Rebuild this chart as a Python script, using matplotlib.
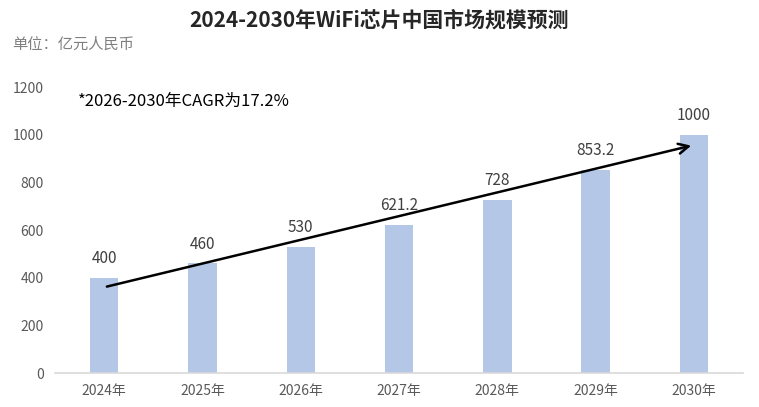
import numpy as np
import matplotlib
matplotlib.use('Agg')
import matplotlib.pyplot as plt

plt.rcParams['font.family'] = ['Noto Sans CJK SC', 'DejaVu Sans']

# datos del gráfico
years = ['2024年', '2025年', '2026年', '2027年', '2028年', '2029年', '2030年']
values = [400, 460, 530, 621.2, 728, 853.2, 1000]
labels = ['400', '460', '530', '621.2', '728', '853.2', '1000']
yticks = [0, 200, 400, 600, 800, 1000, 1200]
arrow_start = (0, 360)
arrow_end = (6, 957)

fig = plt.figure(figsize=(7.59, 4.07), dpi=100)
ax = fig.add_axes([0.0725, 0.0835, 0.9065, 0.7025])

x = np.arange(len(years))
ax.bar(x, values, width=0.29, color='#b4c7e7', zorder=2)

for xi, v, lab in zip(x, values, labels):
    ax.text(xi, v + 45, lab, ha='center', va='bottom', fontsize=11, color='#404040')

ax.annotate('', xy=arrow_end, xytext=arrow_start,
            arrowprops=dict(arrowstyle='->', color='black', lw=1.8,
                            mutation_scale=18), zorder=3)

ax.set_xlim(-0.5, 6.5)
ax.set_ylim(0, 1200)
ax.set_xticks(x)
ax.set_xticklabels(years, fontsize=10, color='#595959')
ax.set_yticks(yticks)
ax.set_yticklabels([str(v) for v in yticks], fontsize=10, color='#595959')
ax.tick_params(axis='both', length=0, pad=8)
for s in ['top', 'right', 'left']:
    ax.spines[s].set_visible(False)
ax.spines['bottom'].set_color('#d9d9d9')
ax.spines['bottom'].set_linewidth(1.2)

fig.text(0.5, 0.95, '2024-2030年WiFi芯片中国市场规模预测', ha='center', va='center',
         fontsize=15, fontweight='bold', color='#262626')
fig.text(0.016, 0.89, '单位：亿元人民币', ha='left', va='center',
         fontsize=11, color='#7f7f7f')
fig.text(0.103, 0.75, '*2026-2030年CAGR为17.2%', ha='left', va='center',
         fontsize=12, color='black')

fig.savefig('out.png', dpi=100)
